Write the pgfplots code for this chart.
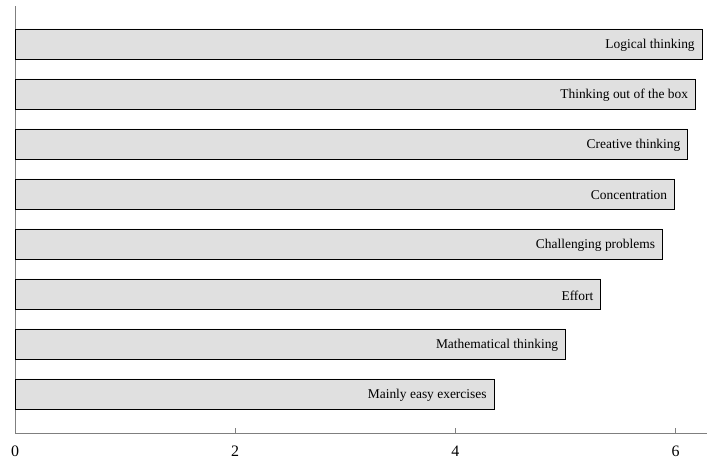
\documentclass[border=0pt]{standalone}
\usepackage{fontspec}
\setmainfont{Liberation Serif}
\usepackage{pgfplots}
\usepackage{pgfplotstable}
\pgfplotsset{compat=1.18}
\definecolor{barfill}{HTML}{E0E0E0}
\definecolor{axgray}{HTML}{7F7F7F}
\pgfplotstableread[col sep=comma]{
y,val,label
0,4.35,Mainly easy exercises
1,5.00,Mathematical thinking
2,5.32,Effort
3,5.88,Challenging problems
4,5.99,Concentration
5,6.11,Creative thinking
6,6.18,Thinking out of the box
7,6.24,Logical thinking
}\datatable
\begin{document}
\begin{tikzpicture}
\begin{axis}[
  scale only axis,
  width=692bp, height=427bp,
  xmin=0, xmax=6.285,
  ymin=-0.78, ymax=7.76,
  axis x line=bottom, axis y line=left,
  axis line style={-, draw=axgray, line width=0.8pt},
  xtick={0,2,4,6},
  ytick=\empty,
  tick align=inside,
  major tick length=5bp,
  tick style={draw=axgray, line width=0.8pt},
  /pgf/number format/assume math mode=true,
  ticklabel style={font=\fontsize{16}{18}\selectfont},
  xticklabel style={anchor=south, yshift=-24bp, inner sep=0pt},
  xbar, bar width=30bp,
  point meta=explicit symbolic,
  nodes near coords,
  every node near coord/.append style={anchor=east, inner sep=0pt, xshift=-7bp, yshift=-1.5bp, font=\fontsize{13.5}{15}\selectfont, text=black},
]
\addplot[fill=barfill, draw=black, line width=0.7pt] table[x=val, y=y, meta=label] {\datatable};
\end{axis}
\pgfresetboundingbox
\path[use as bounding box] (-15bp,-26bp) rectangle (694bp,433bp);
\end{tikzpicture}
\end{document}
